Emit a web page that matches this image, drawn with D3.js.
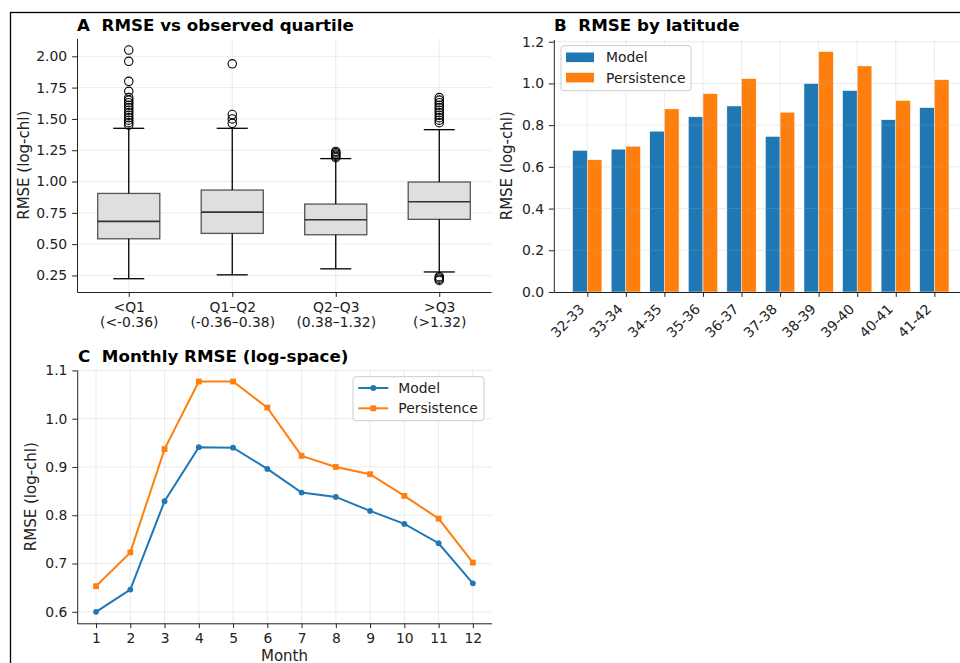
<!DOCTYPE html>
<html>
<head>
<meta charset="utf-8">
<script src="https://cdn.jsdelivr.net/npm/d3@7"></script>
<style>
  html, body { margin: 0; padding: 0; background: #fff; overflow: hidden; }
  svg { display: block; font-family: "DejaVu Sans", sans-serif; }
  .grid line { stroke: #b0b0b0; stroke-opacity: 0.3; stroke-width: 0.8; }
  .axis path, .axis line { stroke: #222; stroke-width: 1; }
  .axis text { fill: #222; font-size: 13.9px; font-family: "DejaVu Sans", sans-serif; }
</style>
</head>
<body>
<svg id="fig" width="960" height="663"></svg>
<script>
//============================================================
// Data
//------------------------------------------------------------

var quartileNames = ["<Q1", "Q1\u2013Q2", "Q2\u2013Q3", ">Q3"];
var quartileRanges = ["(<-0.36)", "(-0.36\u20130.38)", "(0.38\u20131.32)", "(>1.32)"];
var boxQ1 = [0.543, 0.586, 0.575, 0.698];
var boxMedian = [0.682, 0.756, 0.695, 0.839];
var boxQ3 = [0.905, 0.932, 0.820, 0.996];
var whiskerLow = [0.224, 0.255, 0.303, 0.278];
var whiskerHigh = [1.425, 1.425, 1.183, 1.414];
var fliers = [
    [2.05, 1.96, 1.80, 1.72, 1.67, 1.65, 1.63, 1.61, 1.59, 1.57, 1.55, 1.53, 1.51, 1.49, 1.47, 1.45],
    [1.94, 1.535, 1.50, 1.465],
    [1.19, 1.20, 1.21, 1.22, 1.23, 1.24],
    [1.47, 1.49, 1.51, 1.53, 1.55, 1.57, 1.59, 1.61, 1.63, 1.65, 1.67, 0.21, 0.22, 0.23, 0.24]
];

var latBands = ["32-33", "33-34", "34-35", "35-36", "36-37", "37-38", "38-39", "39-40", "40-41", "41-42"];
var latModel = [0.679, 0.685, 0.771, 0.840, 0.892, 0.746, 0.999, 0.966, 0.826, 0.884];
var latPersistence = [0.634, 0.699, 0.878, 0.951, 1.023, 0.862, 1.153, 1.084, 0.918, 1.018];

var months = [1, 2, 3, 4, 5, 6, 7, 8, 9, 10, 11, 12];
var monthModel = [0.600, 0.646, 0.829, 0.941, 0.940, 0.896, 0.847, 0.838, 0.809, 0.782, 0.742, 0.659];
var monthPersistence = [0.653, 0.723, 0.937, 1.077, 1.077, 1.023, 0.923, 0.900, 0.885, 0.840, 0.793, 0.702];

var blue = "#1f77b4",
    orange = "#ff7f0e";

var svg = d3.select("#fig");

// figure frame (only top and left edges fall inside the window)
svg.append("rect")
    .attr("x", 10.5).attr("y", 12.5)
    .attr("width", 2000).attr("height", 2000)
    .style("fill", "none").style("stroke", "#000").style("stroke-width", 1.3);

function pad(lo, hi) {
    var m = (hi - lo) * 0.05;
    return [lo - m, hi + m];
}

function title(x, y, txt) {
    svg.append("text")
        .attr("x", x).attr("y", y)
        .style("font-size", "16.7px").style("font-weight", "bold").style("fill", "#000")
        .style("white-space", "pre")
        .text(txt);
}

function yLabel(x, y, txt) {
    svg.append("text")
        .attr("transform", "translate(" + x + "," + y + ") rotate(-90)")
        .attr("dy", "0.32em")
        .style("text-anchor", "middle").style("font-size", "15px").style("fill", "#222")
        .text(txt);
}

function yAxis(g, y, left, ticks, fmt) {
    g.append("g").attr("class", "axis")
        .attr("transform", "translate(" + left + ",0)")
        .call(d3.axisLeft(y).tickValues(ticks).tickFormat(fmt).tickSize(4.9).tickPadding(4.9).tickSizeOuter(0));
}

//============================================================
// A  boxplot by quartile
//------------------------------------------------------------

(function() {
    var left = 77, right = 491, top = 38.5, bottom = 292;
    var g = svg.append("g");
    var allVals = whiskerLow.concat(whiskerHigh, d3.merge(fliers));
    var x = d3.scaleLinear().domain([0.5, quartileNames.length + 0.5]).range([left, right]);
    var y = d3.scaleLinear().domain(pad(d3.min(allVals), d3.max(allVals))).range([bottom, top]);
    var yTicks = d3.range(0.25, 2.01, 0.25);
    var pos = quartileNames.map(function(d, i) { return i + 1; });

    // grid
    var grid = g.append("g").attr("class", "grid");
    grid.selectAll("line.h").data(yTicks).enter().append("line")
        .attr("x1", left).attr("x2", right).attr("y1", y).attr("y2", y);
    grid.selectAll("line.v").data(pos).enter().append("line")
        .attr("y1", top).attr("y2", bottom).attr("x1", x).attr("x2", x);

    var half = 0.3, capHalf = 0.15;
    var boxes = g.selectAll("g.box").data(pos).enter().append("g").attr("class", "box");

    boxes.append("rect")
        .attr("x", function(d) { return x(d - half); })
        .attr("width", function(d) { return x(d + half) - x(d - half); })
        .attr("y", function(d, i) { return y(boxQ3[i]); })
        .attr("height", function(d, i) { return y(boxQ1[i]) - y(boxQ3[i]); })
        .style("fill", "#dddddd").style("fill-opacity", 0.93)
        .style("stroke", "#555").style("stroke-width", 1.3);

    // whiskers
    boxes.append("line")
        .attr("x1", x).attr("x2", x)
        .attr("y1", function(d, i) { return y(boxQ1[i]); })
        .attr("y2", function(d, i) { return y(whiskerLow[i]); })
        .style("stroke", "#000").style("stroke-width", 1.3);
    boxes.append("line")
        .attr("x1", x).attr("x2", x)
        .attr("y1", function(d, i) { return y(boxQ3[i]); })
        .attr("y2", function(d, i) { return y(whiskerHigh[i]); })
        .style("stroke", "#000").style("stroke-width", 1.3);
    // caps
    [whiskerLow, whiskerHigh].forEach(function(arr) {
        boxes.append("line")
            .attr("x1", function(d) { return x(d - capHalf); })
            .attr("x2", function(d) { return x(d + capHalf); })
            .attr("y1", function(d, i) { return y(arr[i]); })
            .attr("y2", function(d, i) { return y(arr[i]); })
            .style("stroke", "#000").style("stroke-width", 1.3);
    });
    // median
    boxes.append("line")
        .attr("x1", function(d) { return x(d - half); })
        .attr("x2", function(d) { return x(d + half); })
        .attr("y1", function(d, i) { return y(boxMedian[i]); })
        .attr("y2", function(d, i) { return y(boxMedian[i]); })
        .style("stroke", "#333").style("stroke-width", 1.6);
    // fliers
    boxes.each(function(d, i) {
        d3.select(this).selectAll("circle").data(fliers[i]).enter().append("circle")
            .attr("cx", x(d)).attr("cy", y).attr("r", 4.2)
            .style("fill", "none").style("stroke", "#000").style("stroke-width", 1.1);
    });

    yAxis(g, y, left, yTicks, d3.format(".2f"));

    var xa = g.append("g").attr("class", "axis")
        .attr("transform", "translate(0," + bottom + ")")
        .call(d3.axisBottom(x).tickValues(pos).tickSize(4.9).tickPadding(4.9).tickSizeOuter(0)
            .tickFormat(function() { return ""; }));
    xa.selectAll(".tick text").each(function(d, i) {
        var t = d3.select(this);
        t.append("tspan").attr("x", 0).text(quartileNames[i]);
        t.append("tspan").attr("x", 0).attr("dy", "1.12em").text(quartileRanges[i]);
    });

    title(77, 30.7, "A  RMSE vs observed quartile");
    yLabel(24, (top + bottom) / 2, "RMSE (log-chl)");
})();

//============================================================
// B  grouped bars by latitude
//------------------------------------------------------------

(function() {
    var left = 553.8, right = 967.8, top = 39.5, bottom = 292;
    var g = svg.append("g");
    var bw = 0.38;
    var x = d3.scaleLinear().domain(pad(-bw, latBands.length - 1 + bw)).range([left, right]);
    var yMax = d3.max(latModel.concat(latPersistence));
    var y = d3.scaleLinear().domain([0, yMax * 1.05]).range([bottom, top]);
    var yTicks = d3.range(0, 1.21, 0.2);
    var idx = latBands.map(function(d, i) { return i; });

    var bars = g.append("g");
    bars.selectAll("rect.m").data(latModel).enter().append("rect")
        .attr("x", function(d, i) { return x(i - bw); })
        .attr("width", function(d, i) { return x(i) - x(i - bw); })
        .attr("y", y).attr("height", function(d) { return bottom - y(d); })
        .style("fill", blue).style("stroke", "#fff").style("stroke-width", 0.5);
    bars.selectAll("rect.p").data(latPersistence).enter().append("rect")
        .attr("x", function(d, i) { return x(i); })
        .attr("width", function(d, i) { return x(i + bw) - x(i); })
        .attr("y", y).attr("height", function(d) { return bottom - y(d); })
        .style("fill", orange).style("stroke", "#fff").style("stroke-width", 0.5);

    // grid sits over the bars like matplotlib's default
    var grid = g.append("g").attr("class", "grid");
    grid.selectAll("line.h").data(yTicks).enter().append("line")
        .attr("x1", left).attr("x2", right).attr("y1", y).attr("y2", y);
    grid.selectAll("line.v").data(idx).enter().append("line")
        .attr("y1", top).attr("y2", bottom).attr("x1", x).attr("x2", x);

    yAxis(g, y, left, yTicks, d3.format(".1f"));

    var xa = g.append("g").attr("class", "axis")
        .attr("transform", "translate(0," + bottom + ")")
        .call(d3.axisBottom(x).tickValues(idx).tickSize(4.9).tickSizeOuter(0)
            .tickFormat(function(d) { return latBands[d]; }));
    xa.selectAll(".tick text")
        .attr("y", 0).attr("dy", null)
        .attr("transform", "translate(-2.5,18) rotate(-45)")
        .style("text-anchor", "end");

    // legend
    var lg = g.append("g").attr("transform", "translate(561,45.7)");
    lg.append("rect").attr("width", 130).attr("height", 45).attr("rx", 3)
        .style("fill", "#fff").style("fill-opacity", 0.8).style("stroke", "#ccc");
    [["Model", blue], ["Persistence", orange]].forEach(function(e, i) {
        lg.append("rect").attr("x", 5).attr("y", 6.8 + i * 20.3).attr("width", 28).attr("height", 9.6)
            .style("fill", e[1]);
        lg.append("text").attr("x", 45).attr("y", 16.8 + i * 20.3)
            .style("font-size", "13.9px").style("fill", "#222").text(e[0]);
    });

    title(554, 30.7, "B  RMSE by latitude");
    yLabel(507, (top + bottom) / 2, "RMSE (log-chl)");
})();

//============================================================
// C  monthly lines
//------------------------------------------------------------

(function() {
    var left = 77.2, right = 491.7, top = 370, bottom = 623.3;
    var g = svg.append("g");
    var x = d3.scaleLinear().domain(pad(1, 12)).range([left, right]);
    var all = monthModel.concat(monthPersistence);
    var y = d3.scaleLinear().domain(pad(d3.min(all), d3.max(all))).range([bottom, top]);
    var yTicks = [0.6, 0.7, 0.8, 0.9, 1.0, 1.1];

    var grid = g.append("g").attr("class", "grid");
    grid.selectAll("line.h").data(yTicks).enter().append("line")
        .attr("x1", left).attr("x2", right).attr("y1", y).attr("y2", y);
    grid.selectAll("line.v").data(months).enter().append("line")
        .attr("y1", top).attr("y2", bottom).attr("x1", x).attr("x2", x);

    var line = d3.line()
        .x(function(d, i) { return x(months[i]); })
        .y(function(d) { return y(d); });

    g.append("path").datum(monthModel).attr("d", line)
        .style("fill", "none").style("stroke", blue).style("stroke-width", 2);
    g.selectAll("circle.m").data(monthModel).enter().append("circle")
        .attr("cx", function(d, i) { return x(months[i]); }).attr("cy", y).attr("r", 2.9)
        .style("fill", blue);

    g.append("path").datum(monthPersistence).attr("d", line)
        .style("fill", "none").style("stroke", orange).style("stroke-width", 2);
    g.selectAll("rect.p").data(monthPersistence).enter().append("rect")
        .attr("x", function(d, i) { return x(months[i]) - 2.9; })
        .attr("y", function(d) { return y(d) - 2.9; })
        .attr("width", 5.8).attr("height", 5.8)
        .style("fill", orange);

    yAxis(g, y, left, yTicks, d3.format(".1f"));
    g.append("g").attr("class", "axis")
        .attr("transform", "translate(0," + bottom + ")")
        .call(d3.axisBottom(x).tickValues(months).tickSize(4.9).tickPadding(4.9).tickSizeOuter(0));

    // legend
    var lg = g.append("g").attr("transform", "translate(353,376.7)");
    lg.append("rect").attr("width", 131).attr("height", 44).attr("rx", 3)
        .style("fill", "#fff").style("fill-opacity", 0.8).style("stroke", "#ccc");
    lg.append("line").attr("x1", 5.3).attr("x2", 35.3).attr("y1", 11.3).attr("y2", 11.3)
        .style("stroke", blue).style("stroke-width", 2);
    lg.append("circle").attr("cx", 20.3).attr("cy", 11.3).attr("r", 2.9).style("fill", blue);
    lg.append("line").attr("x1", 5.3).attr("x2", 35.3).attr("y1", 31.6).attr("y2", 31.6)
        .style("stroke", orange).style("stroke-width", 2);
    lg.append("rect").attr("x", 17.4).attr("y", 28.7).attr("width", 5.8).attr("height", 5.8).style("fill", orange);
    lg.append("text").attr("x", 45.3).attr("y", 16.3)
        .style("font-size", "13.9px").style("fill", "#222").text("Model");
    lg.append("text").attr("x", 45.3).attr("y", 36.6)
        .style("font-size", "13.9px").style("fill", "#222").text("Persistence");

    svg.append("text")
        .attr("x", (left + right) / 2).attr("y", 661)
        .style("text-anchor", "middle").style("font-size", "15px").style("fill", "#222")
        .text("Month");

    title(78, 362.3, "C  Monthly RMSE (log-space)");
    yLabel(30.8, (top + bottom) / 2, "RMSE (log-chl)");
})();
</script>
</body>
</html>
